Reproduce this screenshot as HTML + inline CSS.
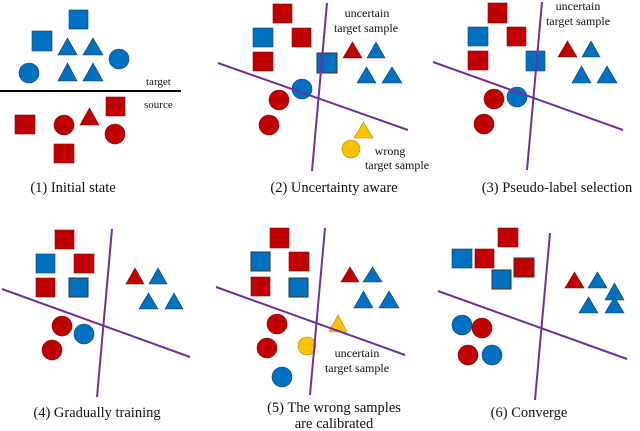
<!DOCTYPE html>
<html><head><meta charset="utf-8"><style>
html,body{margin:0;padding:0;background:#fff;width:640px;height:431px;overflow:hidden}
svg{display:block}
text{font-family:"Liberation Serif",serif;fill:#111}
.r{fill:#C00000;stroke:#7a1010;stroke-width:0.6}
.b{fill:#0070C0;stroke:#1a3d66;stroke-width:0.6}
.y{fill:#FFC000;stroke:#b08a00;stroke-width:0.6}
.p{stroke:#7030A0;stroke-width:2;fill:none}
.c{font-size:14.5px;text-anchor:middle}
.s{font-size:12px;text-anchor:middle}
</style></head><body>
<svg width="640" height="431" viewBox="0 0 640 431" xmlns="http://www.w3.org/2000/svg">
<!-- Panel 1 -->
<rect class="b" x="69" y="10" width="19" height="19"/>
<rect class="b" x="32" y="31" width="20" height="20"/>
<polygon class="b" points="58,55 77,55 67.5,38"/>
<polygon class="b" points="83,55 103,55 93,38"/>
<polygon class="b" points="58,81 77,81 67.5,63"/>
<polygon class="b" points="83,81 103,81 93,63"/>
<circle class="b" cx="119" cy="59" r="10"/>
<circle class="b" cx="29" cy="73" r="10"/>
<line x1="0" y1="91" x2="181" y2="91" stroke="#000" stroke-width="2"/>
<text x="146" y="85" font-size="11">target</text>
<text x="144" y="108" font-size="11">source</text>
<rect class="r" x="106" y="97" width="19" height="19"/>
<rect class="r" x="15" y="115" width="20" height="19"/>
<rect class="r" x="54" y="144" width="20" height="19"/>
<circle class="r" cx="64" cy="125" r="10"/>
<circle class="r" cx="115" cy="134" r="10"/>
<polygon class="r" points="80,125 99,125 89.5,108"/>
<text class="c" x="73" y="192">(1) Initial state</text>

<!-- Panel 2 -->
<rect class="r" x="273" y="4" width="19" height="19"/>
<rect class="b" x="253" y="28" width="20" height="19"/>
<rect class="r" x="292" y="28" width="19" height="19"/>
<rect class="r" x="253" y="52" width="20" height="19"/>
<rect class="b" x="317" y="53" width="20" height="20" style="stroke:#333;stroke-width:1"/>
<circle class="b" cx="302" cy="89" r="10"/>
<circle class="r" cx="279" cy="100" r="10"/>
<circle class="r" cx="269" cy="125" r="10"/>
<polygon class="r" points="343,58 362,58 352.5,42"/>
<polygon class="b" points="367,58 385,58 376,42"/>
<polygon class="b" points="357,83 376,83 366.5,67"/>
<polygon class="b" points="382,83 402,83 392,67"/>
<polygon class="y" points="354,138 373,138 363.5,122"/>
<circle class="y" cx="351" cy="149" r="9"/>
<line class="p" x1="327" y1="3" x2="312" y2="171"/>
<line class="p" x1="218" y1="63" x2="408" y2="130"/>
<text class="s" x="367" y="17">uncertain</text>
<text class="s" x="366" y="32">target sample</text>
<text class="s" x="390" y="155">wrong</text>
<text class="s" x="397" y="169">target sample</text>
<text class="c" x="334" y="192">(2) Uncertainty aware</text>

<!-- Panel 3 -->
<rect class="r" x="488" y="3" width="19" height="20"/>
<rect class="b" x="468" y="27" width="20" height="19"/>
<rect class="r" x="507" y="27" width="19" height="19"/>
<rect class="r" x="468" y="51" width="20" height="19"/>
<rect class="b" x="526" y="51" width="19" height="20"/>
<circle class="r" cx="494" cy="99" r="10"/>
<circle class="r" cx="484" cy="124" r="10"/>
<circle class="b" cx="517" cy="97" r="10"/>
<polygon class="r" points="558,57 577,57 567.5,41"/>
<polygon class="b" points="582,57 600,57 591,41"/>
<polygon class="b" points="572,83 591,83 581.5,66"/>
<polygon class="b" points="597,83 617,83 607,66"/>
<line class="p" x1="542" y1="2" x2="527" y2="170"/>
<line class="p" x1="433" y1="62" x2="623" y2="130"/>
<text class="s" x="578" y="10">uncertain</text>
<text class="s" x="578" y="25">target sample</text>
<text class="c" x="557" y="192">(3) Pseudo-label selection</text>

<!-- Panel 4 -->
<rect class="r" x="55" y="230" width="19" height="19"/>
<rect class="b" x="36" y="254" width="19" height="19"/>
<rect class="r" x="74" y="254" width="20" height="19"/>
<rect class="r" x="36" y="278" width="19" height="19"/>
<rect class="b" x="69" y="278" width="19" height="19" style="stroke:#333;stroke-width:1"/>
<circle class="r" cx="62" cy="326" r="10"/>
<circle class="r" cx="52" cy="350" r="10"/>
<circle class="b" cx="84" cy="334" r="10"/>
<polygon class="r" points="126,284 144,284 135,268"/>
<polygon class="b" points="149,284 167,284 158,268"/>
<polygon class="b" points="139,309 158,309 148.5,293"/>
<polygon class="b" points="165,309 183,309 174,293"/>
<line class="p" x1="112" y1="229" x2="97" y2="397"/>
<line class="p" x1="2" y1="289" x2="190" y2="357"/>
<text class="c" x="97" y="417">(4) Gradually training</text>

<!-- Panel 5 -->
<rect class="r" x="270" y="228" width="19" height="20"/>
<rect class="b" x="251" y="252" width="19" height="19" style="stroke:#333;stroke-width:1"/>
<rect class="r" x="289" y="252" width="20" height="19"/>
<rect class="r" x="251" y="277" width="19" height="19"/>
<rect class="b" x="289" y="278" width="19" height="19" style="stroke:#333;stroke-width:1"/>
<circle class="r" cx="277" cy="324" r="10"/>
<circle class="r" cx="267" cy="348" r="10"/>
<circle class="b" cx="282" cy="377" r="10"/>
<circle class="y" cx="307" cy="346" r="9"/>
<polygon class="y" points="329,332 347,332 338,315"/>
<polygon class="r" points="341,282 359,282 350,267"/>
<polygon class="b" points="363,282 382,282 372.5,267"/>
<polygon class="b" points="354,308 373,308 363.5,291"/>
<polygon class="b" points="379,308 399,308 389,291"/>
<line class="p" x1="325" y1="228" x2="310" y2="395"/>
<line class="p" x1="216" y1="287" x2="405" y2="355"/>
<text class="s" x="357" y="357">uncertain</text>
<text class="s" x="357" y="372">target sample</text>
<text class="c" x="334" y="412">(5) The wrong samples</text>
<text class="c" x="334" y="428">are calibrated</text>

<!-- Panel 6 -->
<rect class="r" x="498" y="228" width="20" height="19"/>
<rect class="b" x="452" y="249" width="20" height="19"/>
<rect class="r" x="475" y="249" width="19" height="19"/>
<rect class="r" x="514" y="258" width="20" height="19" style="stroke:#333;stroke-width:1"/>
<rect class="b" x="492" y="270" width="19" height="19" style="stroke:#333;stroke-width:1"/>
<circle class="b" cx="462" cy="325" r="10"/>
<circle class="r" cx="482" cy="328" r="10"/>
<circle class="r" cx="468" cy="355" r="10"/>
<circle class="b" cx="492" cy="355" r="10"/>
<polygon class="r" points="565,288 584,288 574.5,272"/>
<polygon class="b" points="588,288 607,288 597.5,272"/>
<polygon class="b" points="605,300 624,300 614.5,283"/>
<polygon class="b" points="579,313 598,313 588.5,297"/>
<polygon class="b" points="605,313 624,313 614.5,297"/>
<line class="p" x1="550" y1="233" x2="535" y2="400"/>
<line class="p" x1="438" y1="291" x2="627" y2="359"/>
<text class="c" x="529" y="417">(6) Converge</text>
</svg>
</body></html>
